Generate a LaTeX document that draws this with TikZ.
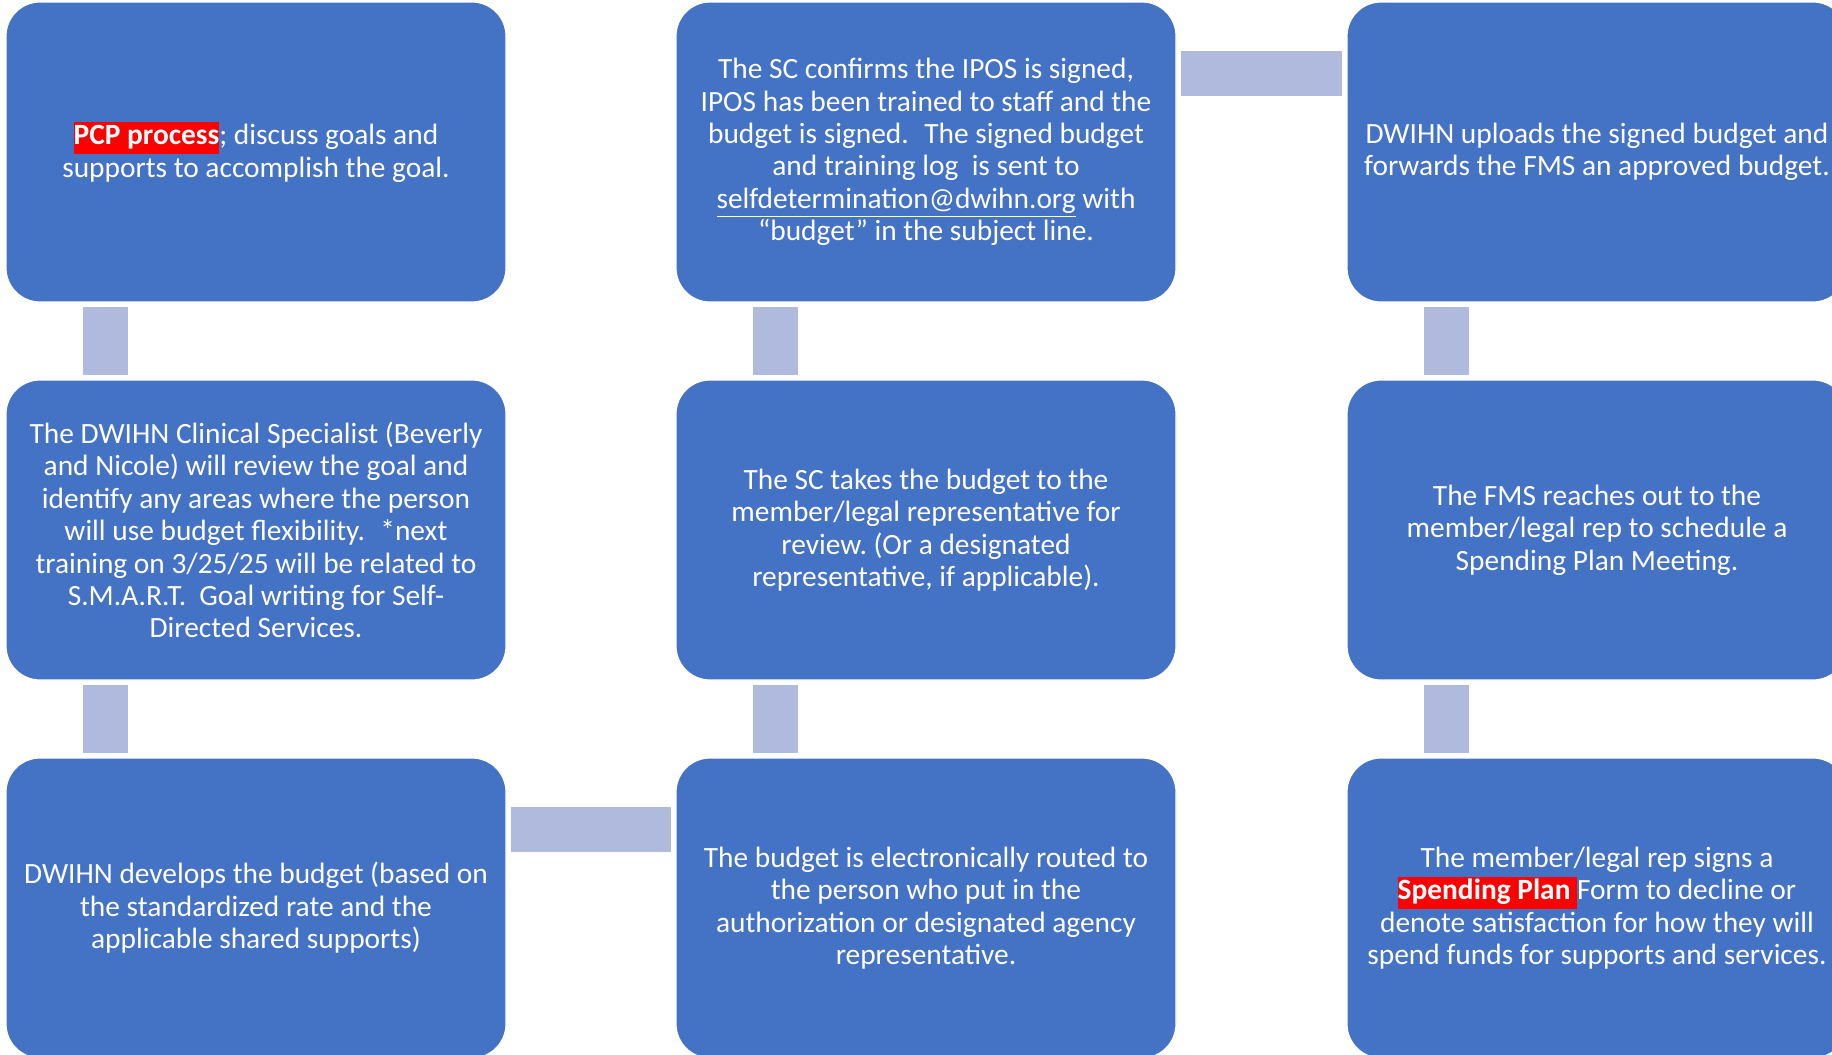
\documentclass[tikz,border=0pt]{standalone}
\usepackage{fontspec}
\setmainfont{Carlito}
\usepackage{xcolor}
\definecolor{boxblue}{HTML}{4472C4}
\definecolor{linkblue}{HTML}{AFBADC}
\definecolor{hlred}{HTML}{FF0000}
\newcommand\redmark[1]{{\setlength{\fboxsep}{0pt}\colorbox{hlred}{\strut\bfseries #1}}}

\begin{document}
\begin{tikzpicture}[x=0.5pt, y=-0.5pt,
  stepbox/.style={rectangle, rounded corners=17pt, fill=boxblue, draw=white, line width=0.6pt,
    minimum width=250pt, minimum height=150pt, inner sep=0pt, align=center, text=white,
    font=\fontsize{14.7}{16.2}\selectfont},
  link/.style={draw=linkblue, line width=22.5pt, shorten <=2pt, shorten >=2pt}]
\clip (0,0) rectangle (1832,1055);
\useasboundingbox (0,0) rectangle (1832,1055);

\node[stepbox] (pcp) at (256,152) {\redmark{PCP process}; discuss goals and\\supports to accomplish the goal.};
\node[stepbox] (review) at (256,530) {The DWIHN Clinical Specialist (Beverly\\and Nicole) will review the goal and\\identify any areas where the person\\will use budget flexibility.~ *next\\training on 3/25/25 will be related to\\S.M.A.R.T.~ Goal writing for Self-\\Directed Services.};
\node[stepbox] (develop) at (256,908) {DWIHN develops the budget (based on\\the standardized rate and the\\applicable shared supports)};
\node[stepbox] (route) at (926,908) {The budget is electronically routed to\\the person who put in the\\authorization or designated agency\\representative.};
\node[stepbox] (takes) at (926,530) {The SC takes the budget to the\\member/legal representative for\\review.\ (Or a designated\\representative, if applicable).};
\node[stepbox] (confirm) at (926,152) {The SC confirms the IPOS is signed,\\IPOS has been trained to staff and the\\budget is signed.~ The signed budget\\and training log~ is sent to\\\underline{selfdetermination@dwihn.org} with\\“budget” in the subject line.};
\node[stepbox] (upload) at (1597,152) {DWIHN uploads the signed budget and\\forwards the FMS an approved budget.};
\node[stepbox] (reach) at (1597,530) {The FMS reaches out to the\\member/legal rep to schedule a\\Spending Plan Meeting.};
\node[stepbox] (sign) at (1597,908) {The member/legal rep signs a\\\redmark{Spending Plan }Form to decline or\\denote satisfaction for how they will\\spend funds for supports and services.};

% bars between the steps
\draw[link] ([xshift=50pt]pcp.south west) -- ([xshift=50pt]review.north west);
\draw[link] ([xshift=50pt]review.south west) -- ([xshift=50pt]develop.north west);
\draw[link] ([yshift=-36pt]develop.north east) -- ([yshift=-36pt]route.north west);
\draw[link] ([xshift=50pt]route.north west) -- ([xshift=50pt]takes.south west);
\draw[link] ([xshift=50pt]takes.north west) -- ([xshift=50pt]confirm.south west);
\draw[link] ([yshift=-36pt]confirm.north east) -- ([yshift=-36pt]upload.north west);
\draw[link] ([xshift=50pt]upload.south west) -- ([xshift=50pt]reach.north west);
\draw[link] ([xshift=50pt]reach.south west) -- ([xshift=50pt]sign.north west);
\end{tikzpicture}
\end{document}
